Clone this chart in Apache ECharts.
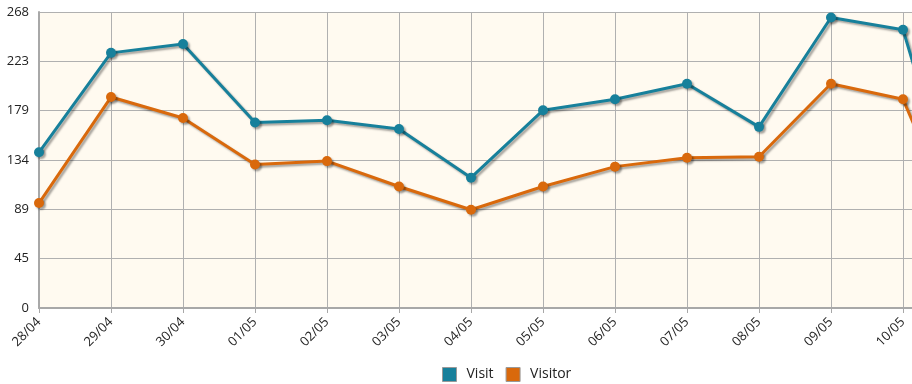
<!DOCTYPE html>
<html><head><meta charset="utf-8">
<script src="https://cdn.jsdelivr.net/npm/echarts@6/dist/echarts.min.js"></script>
<style>html,body{margin:0;padding:0;background:#fff}#c{width:912px;height:384px}</style>
</head><body><div id="c"></div>
<script>
const categories = ['28/04','29/04','30/04','01/05','02/05','03/05','04/05','05/05','06/05','07/05','08/05','09/05','10/05','11/05'];
const visit   = [141, 231, 239, 168, 170, 162, 118, 179, 189, 203, 164, 263, 252, 34];
const visitor = [95, 191, 172, 130, 133, 110, 89, 110, 128, 136, 137, 203, 189, 37];
const yTickLabels = ['0','45','89','134','179','223','268'];
const yMax = 268;

const font = '"Open Sans", "Noto Sans", sans-serif';
const chart = echarts.init(document.getElementById('c'), null, {renderer:'canvas'});
const shadow = {shadowColor:'rgba(0,0,0,0.35)', shadowBlur:2, shadowOffsetX:2, shadowOffsetY:2};
function ser(name, data, color){
  return {
    name, type:'line', data, symbol:'circle', symbolSize:10,
    itemStyle:{color, ...shadow},
    lineStyle:{color, width:3, ...shadow},
    emphasis:{disabled:true}, animation:false, z: name==='Visit'?3:2
  };
}
chart.setOption({
  animation:false,
  textStyle:{fontFamily:font},
  grid:{left:39, top:12, height:296, width:936, outerBoundsMode:'none', show:true, backgroundColor:'#fffaf0', borderWidth:0, containLabel:false},
  legend:{top:367, left:442, padding:0, itemWidth:14, itemHeight:14, itemGap:12, icon:'rect',
    textStyle:{fontSize:14, color:'#222', fontFamily:font, padding:[0,0,0,5]},
    data:[{name:'Visit', itemStyle:{borderColor:'#999', borderWidth:1}},{name:'Visitor', itemStyle:{borderColor:'#999', borderWidth:1}}]},
  xAxis:{type:'category', data:categories, boundaryGap:false,
    axisLine:{lineStyle:{color:'#a8a8a8', width:2}},
    axisTick:{show:true, length:5, lineStyle:{color:'#a8a8a8'}},
    splitLine:{show:true, lineStyle:{color:'#b0b0b0', width:1}},
    axisLabel:{rotate:45, color:'#222', fontSize:13, margin:12, fontFamily:font}},
  yAxis:{type:'value', min:0, max:yMax, interval:yMax/6,
    axisLine:{show:true, lineStyle:{color:'#a8a8a8', width:2}},
    axisTick:{show:false},
    splitLine:{show:true, lineStyle:{color:'#b0b0b0', width:1}},
    axisLabel:{color:'#222', fontSize:13, margin:10, fontFamily:font,
      formatter:(v)=>yTickLabels[Math.round(v/(yMax/6))]}},
  series:[ser('Visit', visit, '#17809b'), ser('Visitor', visitor, '#d9690c')]
});
</script></body></html>
